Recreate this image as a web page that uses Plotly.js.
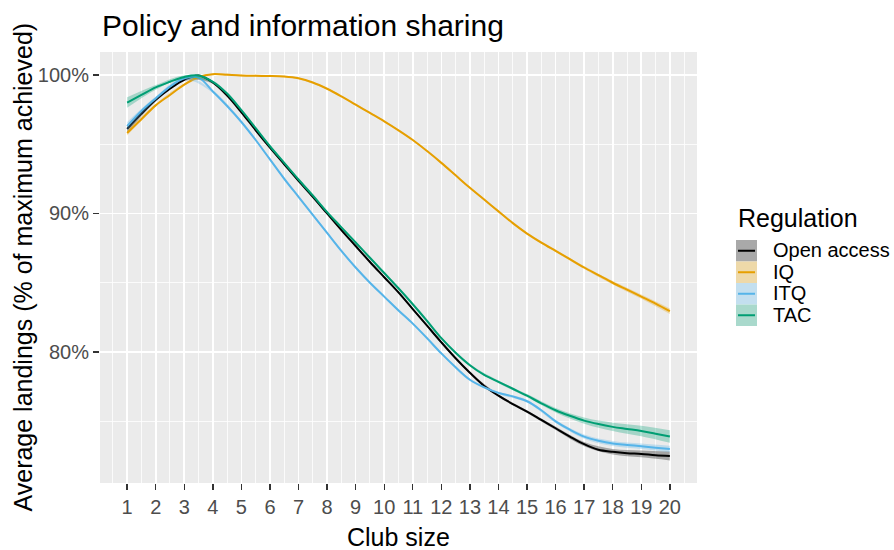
<!DOCTYPE html>
<html><head><meta charset="utf-8">
<script src="https://cdn.plot.ly/plotly-3.0.1.min.js"></script>
<style>html,body{margin:0;padding:0;background:#fff}#chart{width:894px;height:550px}</style>
</head><body><div id="chart"></div>
<script>
// ---- data ----
const clubSize = [1,1.5,2,2.5,3,3.5,4,4.5,5,5.5,6,6.5,7,7.5,8,8.5,9,9.5,10,10.5,11,11.5,12,12.5,13,13.5,14,14.5,15,15.5,16,16.5,17,17.5,18,18.5,19,19.5,20];
const openAccess = [96.1,97.2,98.2,99.0,99.65,99.95,99.45,98.5,97.3,96.0,94.75,93.55,92.35,91.2,90.0,88.8,87.65,86.5,85.4,84.3,83.1,81.9,80.7,79.55,78.5,77.55,76.85,76.25,75.7,75.1,74.5,73.9,73.35,72.95,72.8,72.7,72.65,72.55,72.5];
const iq = [95.8,96.8,97.8,98.55,99.3,99.85,100.05,100.0,99.95,99.93,99.92,99.88,99.75,99.45,99.0,98.45,97.85,97.25,96.65,96.0,95.3,94.5,93.65,92.75,91.85,91.0,90.15,89.3,88.55,87.9,87.3,86.7,86.1,85.55,85.0,84.5,84.0,83.5,82.95];
const itq = [96.3,97.4,98.3,99.15,99.75,99.8,98.8,97.75,96.6,95.3,93.9,92.5,91.2,89.9,88.6,87.3,86.1,85.0,84.0,83.0,82.05,81.0,79.9,78.9,78.0,77.45,77.05,76.8,76.45,75.8,75.0,74.4,73.9,73.6,73.4,73.3,73.2,73.1,73.0];
const tac = [98.0,98.55,99.1,99.5,99.85,99.95,99.5,98.65,97.45,96.15,94.85,93.65,92.45,91.3,90.1,89.0,87.9,86.8,85.7,84.6,83.45,82.25,81.0,79.95,79.05,78.35,77.85,77.35,76.85,76.3,75.8,75.4,75.05,74.8,74.6,74.45,74.3,74.1,73.9];

// confidence half-widths at integer club sizes
const clubInt = [1,2,3,4,5,6,7,8,9,10,11,12,13,14,15,16,17,18,19,20];
const ciOpen = [0.28,0.14,0.1,0.09,0.08,0.08,0.08,0.08,0.08,0.08,0.08,0.08,0.08,0.09,0.1,0.12,0.15,0.2,0.25,0.32];
const ciIQ   = [0.18,0.09,0.07,0.06,0.06,0.06,0.06,0.06,0.06,0.06,0.06,0.06,0.06,0.07,0.08,0.09,0.1,0.12,0.15,0.2];
const ciITQ  = [0.3,0.14,0.1,0.09,0.08,0.08,0.08,0.08,0.08,0.08,0.08,0.08,0.08,0.09,0.1,0.12,0.15,0.18,0.2,0.24];
const ciTAC  = [0.38,0.17,0.11,0.1,0.09,0.09,0.09,0.09,0.09,0.09,0.09,0.09,0.09,0.1,0.12,0.16,0.22,0.3,0.38,0.45];

const seriesNames = ["Open access","IQ","ITQ","TAC"];
const lineColors = ["#000000","#E69F00","#56B4E9","#009E73"];
const fillColors = ["rgba(0,0,0,0.3)","rgba(230,159,0,0.3)","rgba(86,180,233,0.3)","rgba(0,158,115,0.3)"];
const keyColors = ["#a9a9a9","#eed9a9","#c3dfef","#a9d9cc"];

const xTickVals = [1,2,3,4,5,6,7,8,9,10,11,12,13,14,15,16,17,18,19,20];
const xTickText = ["1","2","3","4","5","6","7","8","9","10","11","12","13","14","15","16","17","18","19","20"];
const yTickVals = [80,90,100];
const yTickText = ["80%","90%","100%"];

const titleText = "Policy and information sharing";
const xTitle = "Club size";
const yTitle = "Average landings (% of maximum achieved)";
const legendTitle = "Regulation";

// ---- build ----
const FONT = "Liberation Sans, Arial, Helvetica, sans-serif";
const values = [openAccess, iq, itq, tac];
const cis = [ciOpen, ciIQ, ciITQ, ciTAC];
const traces = [];
values.forEach((vals, i) => {
  const lo = [], hi = [];
  clubInt.forEach((c, k) => {
    const idx = clubSize.indexOf(c);
    lo.push(vals[idx] - cis[i][k]);
    hi.push(vals[idx] + cis[i][k]);
  });
  traces.push({x: clubInt, y: lo, type: "scatter", mode: "lines", line: {width: 0, shape: "spline", color: fillColors[i]}, showlegend: false, hoverinfo: "skip"});
  traces.push({x: clubInt, y: hi, type: "scatter", mode: "lines", fill: "tonexty", fillcolor: fillColors[i], line: {width: 0, shape: "spline", color: fillColors[i]}, showlegend: false, hoverinfo: "skip"});
  traces.push({x: clubSize, y: vals, type: "scatter", mode: "lines", name: seriesNames[i], line: {color: lineColors[i], width: 2, shape: "spline", smoothing: 1}, showlegend: false});
});

// plot area in pixels
const L = 100, R = 697, T = 52, B = 483, W = 894, H = 550;
const px2x = p => (p - L) / (R - L);
const px2y = p => (B - p) / (B - T);

const shapes = [];
const annotations = [];
// legend (custom, ggplot style)
annotations.push({text: legendTitle, xref: "paper", yref: "paper", x: px2x(736), y: px2y(218), xanchor: "left", yanchor: "middle", showarrow: false, font: {family: FONT, size: 25, color: "#000"}});
seriesNames.forEach((n, i) => {
  const top = 240 + i * 21.5, bot = top + 21.5, mid = (top + bot) / 2;
  shapes.push({type: "rect", xref: "paper", yref: "paper", x0: px2x(736), x1: px2x(757), y0: px2y(bot), y1: px2y(top), fillcolor: keyColors[i], line: {width: 0}, layer: "above"});
  shapes.push({type: "line", xref: "paper", yref: "paper", x0: px2x(738), x1: px2x(755), y0: px2y(mid), y1: px2y(mid), line: {color: lineColors[i], width: 2}, layer: "above"});
  annotations.push({text: n, xref: "paper", yref: "paper", x: px2x(771), y: px2y(mid - 0.5), xanchor: "left", yanchor: "middle", showarrow: false, font: {family: FONT, size: 20, color: "#000"}});
});
// axis titles
annotations.push({text: yTitle, xref: "paper", yref: "paper", x: px2x(22), y: 0.5, xanchor: "center", yanchor: "middle", textangle: -90, showarrow: false, font: {family: FONT, size: 25, color: "#000"}});
annotations.push({text: xTitle, xref: "paper", yref: "paper", x: 0.5, y: px2y(537), xanchor: "center", yanchor: "middle", showarrow: false, font: {family: FONT, size: 25, color: "#000"}});

const layout = {
  width: W, height: H,
  margin: {l: L, r: W - R, t: T, b: H - B, pad: 0},
  paper_bgcolor: "#ffffff",
  plot_bgcolor: "#EBEBEB",
  showlegend: false,
  title: {text: titleText, x: 102 / W, xref: "container", xanchor: "left", y: 1 - 25 / H, yref: "container", yanchor: "middle", font: {family: FONT, size: 30, color: "#000"}},
  xaxis: {
    range: [0.05, 20.95], tickvals: xTickVals, ticktext: xTickText,
    showgrid: true, gridcolor: "#ffffff", gridwidth: 1.6, zeroline: false, showline: false,
    ticks: "outside", ticklen: 6, tickwidth: 1.4, tickcolor: "#333333",
    tickfont: {family: FONT, size: 20, color: "#4D4D4D"},
    minor: {dtick: 0.5, tick0: 0, showgrid: true, gridcolor: "#ffffff", gridwidth: 0.8, ticks: ""}
  },
  yaxis: {
    range: [70.55, 101.65], tickvals: yTickVals, ticktext: yTickText,
    showgrid: true, gridcolor: "#ffffff", gridwidth: 1.6, zeroline: false, showline: false,
    ticks: "outside", ticklen: 6, tickwidth: 1.4, tickcolor: "#333333",
    tickfont: {family: FONT, size: 20, color: "#4D4D4D"},
    minor: {tickvals: [75, 85, 95], showgrid: true, gridcolor: "#ffffff", gridwidth: 0.8, ticks: ""}
  },
  shapes: shapes,
  annotations: annotations
};

Plotly.newPlot("chart", traces, layout, {displayModeBar: false, staticPlot: true});
</script>
</body></html>
